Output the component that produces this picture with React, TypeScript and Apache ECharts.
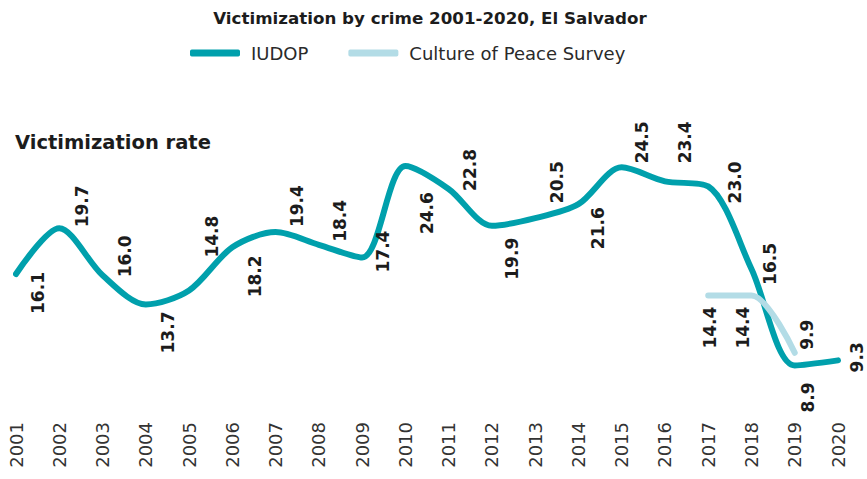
import React, { useEffect, useRef } from "react";
import * as echarts from "echarts";

const years = ["2001","2002","2003","2004","2005","2006","2007","2008","2009","2010","2011","2012","2013","2014","2015","2016","2017","2018","2019","2020"];
const iudop = [16.1,19.7,16.0,13.7,14.8,18.2,19.4,18.4,17.4,24.6,22.8,19.9,20.5,21.6,24.5,23.4,23.0,16.5,8.9,9.3];
const peace: (number | null)[] = [null,null,null,null,null,null,null,null,null,null,null,null,null,null,null,null,14.4,14.4,9.9,null];

const TITLE = "Victimization by crime 2001-2020, El Salvador";
const SERIES_NAMES = ["IUDOP", "Culture of Peace Survey"];
const Y_LABEL = "Victimization rate";

// label placement (style): [dx, dy, direction]
const iudopLabelLayout: [number, number, string][] = [
  [22,-2,"down"],[23,-1,"up"],[22,2,"up"],[22,7,"down"],[23,-33,"up"],
  [23,8,"down"],[21,-5,"up"],[21,-3,"up"],[21,15,"up"],[22,26,"down"],
  [21,2,"up"],[20,12,"down"],[22,-15,"up"],[20,3,"down"],[20,-4,"up"],
  [20,-18,"up"],[27,17,"up"],[19,16,"up"],[13,17,"down"],[19,12,"up"],
];
const peaceLabelLayout: [number, number, string][] = [
  [2,11,"down"],[-8,11,"down"],[12,-3,"up"],
];

const FONT = "'DejaVu Sans', 'Open Sans', sans-serif";
const SYM = 2;

function makeData(values: (number | null)[], layout: [number, number, string][], offsetIdx: number) {
  return values.map((v, i) => {
    if (v == null) return null;
    const l = layout[i - offsetIdx];
    return {
      value: v,
      label: {
        position: [l[0] + SYM / 2, l[1] + SYM / 2],
        align: l[2] === "up" ? "left" : "right",
        verticalAlign: "middle",
      },
    };
  });
}

export default function App() {
  const ref = useRef<HTMLDivElement>(null);
  useEffect(() => {
    if (!ref.current) return;
    const chart = echarts.init(ref.current, null, { renderer: "svg" });
    const labelBase = {
      show: true,
      rotate: 90,
      fontFamily: FONT,
      fontWeight: "bold",
      fontSize: 17,
      color: "#1c1c1c",
      formatter: (p: any) => Number(p.value).toFixed(1),
    };
    chart.setOption({
      animation: false,
      title: {
        text: TITLE,
        left: 425,
        textAlign: "center",
        top: 4,
        textStyle: { fontFamily: FONT, fontWeight: "bold", fontSize: 16.7, color: "#1c1c1c" },
      },
      legend: {
        left: 185,
        top: 39,
        icon: "roundRect",
        itemWidth: 50,
        itemHeight: 7,
        itemGap: 40,
        textStyle: { fontFamily: FONT, fontSize: 18, color: "#2a2a2a", padding: [0, 0, 0, 6] },
        data: SERIES_NAMES,
      },
      graphic: [
        {
          type: "text",
          left: 15,
          top: 132,
          style: { text: Y_LABEL, fontFamily: FONT, fontWeight: "bold", fontSize: 19.5, fill: "#1c1c1c" },
        },
      ],
      grid: { left: 16, right: 29, top: 97.5, bottom: 64, containLabel: false },
      xAxis: {
        type: "category",
        data: years,
        boundaryGap: false,
        axisLine: { show: false },
        axisTick: { show: false },
        axisLabel: { rotate: 90, fontFamily: FONT, fontSize: 18, color: "#333", margin: 7 },
        splitLine: { show: false },
      },
      yAxis: { type: "value", min: 5, max: 30, show: false },
      series: [
        {
          name: SERIES_NAMES[0],
          type: "line",
          smooth: 0.3,
          symbol: "circle",
          symbolSize: SYM,
          itemStyle: { color: "#00a0ac" },
          lineStyle: { width: 6, color: "#00a0ac", cap: "round", join: "round" },
          label: labelBase,
          data: makeData(iudop, iudopLabelLayout, 0),
        },
        {
          name: SERIES_NAMES[1],
          type: "line",
          smooth: 0.3,
          symbol: "circle",
          symbolSize: SYM,
          itemStyle: { color: "#b3dce6" },
          lineStyle: { width: 6, color: "#b3dce6", cap: "round", join: "round" },
          label: labelBase,
          data: makeData(peace, peaceLabelLayout, 16),
        },
      ],
    });
    return () => chart.dispose();
  }, []);
  return <div ref={ref} style={{ position: "absolute", left: 0, top: 0, width: 867, height: 479 }} />;
}
